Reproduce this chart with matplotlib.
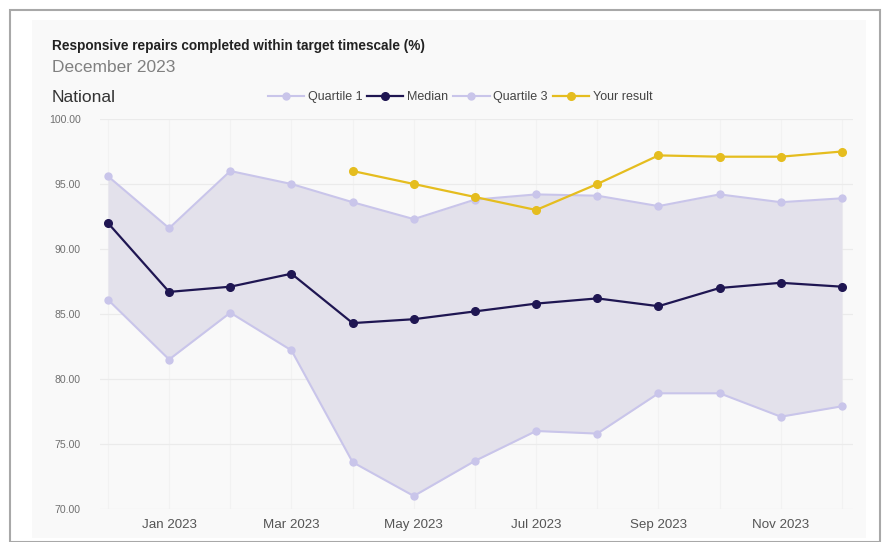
import matplotlib
matplotlib.use("Agg")
import matplotlib.pyplot as plt
from matplotlib.patches import Rectangle

plt.rcParams["font.family"] = ["Liberation Sans", "DejaVu Sans"]

months = ["Dec 2022", "Jan 2023", "Feb 2023", "Mar 2023", "Apr 2023", "May 2023",
          "Jun 2023", "Jul 2023", "Aug 2023", "Sep 2023", "Oct 2023", "Nov 2023", "Dec 2023"]
quartile1 = [86.1, 81.5, 85.1, 82.2, 73.6, 71.0, 73.7, 76.0, 75.8, 78.9, 78.9, 77.1, 77.9]
median = [92.0, 86.7, 87.1, 88.1, 84.3, 84.6, 85.2, 85.8, 86.2, 85.6, 87.0, 87.4, 87.1]
quartile3 = [95.6, 91.6, 96.0, 95.0, 93.6, 92.3, 93.8, 94.2, 94.1, 93.3, 94.2, 93.6, 93.9]
your_result = [None, None, None, None, 96.0, 95.0, 94.0, 93.0, 95.0, 97.2, 97.1, 97.1, 97.5]
yticks = [70, 75, 80, 85, 90, 95, 100]

W, H = 885, 542
fig = plt.figure(figsize=(W / 100, H / 100), dpi=100, facecolor="white")

def fx(px):
    return px / W

def fy(py):
    return 1 - py / H

# outer frame and card, kept behind the axes
fig.patches.append(Rectangle((fx(10), fy(542)), fx(880) - fx(10), fy(10) - fy(542),
                             transform=fig.transFigure, facecolor="white",
                             edgecolor="#a8a8a8", linewidth=1.5, zorder=-20))
fig.patches.append(Rectangle((fx(32), fy(538)), fx(866) - fx(32), fy(20) - fy(538),
                             transform=fig.transFigure, facecolor="#f9f9f9",
                             edgecolor="none", zorder=-19))

ax = fig.add_axes([fx(100), fy(509), fx(853) - fx(100), fy(119) - fy(509)])
ax.set_zorder(1)
ax.patch.set_alpha(0)

x = list(range(len(months)))
q_col = "#c9c5ea"
med_col = "#1f1652"
yr_col = "#e5bd1f"

ax.fill_between(x, quartile1, quartile3, color="#e3e1eb", zorder=1, linewidth=0)
ax.plot(x, quartile1, color=q_col, lw=1.5, marker="o", ms=5, zorder=2, label="Quartile 1")
ax.plot(x, median, color=med_col, lw=1.6, marker="o", ms=5.5, zorder=4, label="Median")
ax.plot(x, quartile3, color=q_col, lw=1.5, marker="o", ms=5, zorder=2, label="Quartile 3")
yx = [i for i, v in zip(x, your_result) if v is not None]
yv = [v for v in your_result if v is not None]
ax.plot(yx, yv, color=yr_col, lw=1.6, marker="o", ms=5.5, zorder=3, label="Your result")

ax.set_ylim(70, 100)
ax.set_xlim(-0.13, 12.18)
ax.set_yticks(yticks)
ax.set_yticklabels([f"{v:.2f}" for v in yticks], fontsize=7.6, color="#707070")
ax.set_xticks(x)
ax.set_xticklabels([m if i % 2 == 1 else "" for i, m in enumerate(months)],
                   fontsize=9.6, color="#555555")
ax.tick_params(length=0, pad=7)
ax.tick_params(axis="y", pad=14)
for s in ax.spines.values():
    s.set_visible(False)
ax.grid(axis="y", color="#ebebeb", lw=0.9)
ax.grid(axis="x", color="#f2f2f2", lw=0.8)
ax.set_axisbelow(True)

fig.text(fx(52), fy(46), "Responsive repairs completed within target timescale (%)",
         fontsize=9.8, fontweight="bold", color="#222222", va="center")
fig.text(fx(52), fy(68), "December 2023", fontsize=12.5, color="#808080", va="center")
fig.text(fx(52), fy(98), "National", fontsize=12.5, color="#333333", va="center")

leg = fig.legend(loc="center", bbox_to_anchor=(fx(460), fy(97)), ncol=4, frameon=False,
                 fontsize=9, handlelength=2.9, handletextpad=0.3, columnspacing=0.4,
                 labelcolor="#444444")

fig.savefig("out.png", dpi=100, facecolor="white")
